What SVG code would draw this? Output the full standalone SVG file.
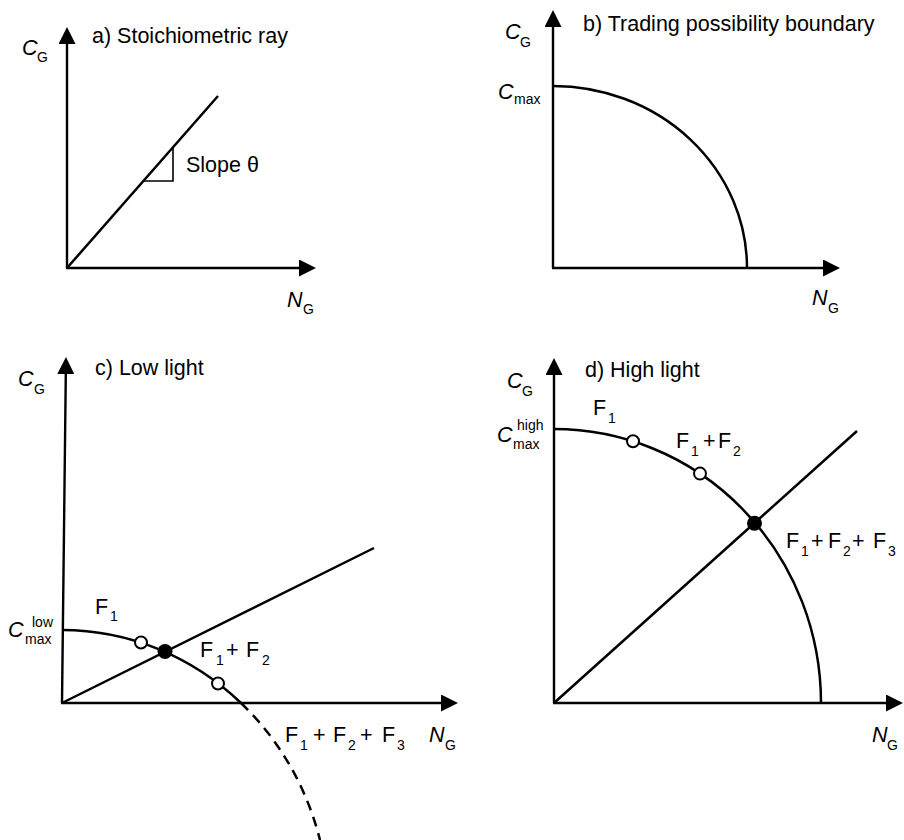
<svg xmlns="http://www.w3.org/2000/svg" width="904" height="840" viewBox="0 0 904 840">
<style>
.bg{fill:#fff}
.ln{fill:none;stroke:#000;stroke-width:2.5}
.thin{fill:none;stroke:#000;stroke-width:1.6}
.dash{fill:none;stroke:#000;stroke-width:2.5;stroke-dasharray:10 7}
.ax{fill:none;stroke:#000;stroke-width:2.4;marker-end:url(#arr)}
.open{fill:#fff;stroke:#000;stroke-width:2}
.fill{fill:#000}
text{font-family:"Liberation Sans",Arial,Helvetica,sans-serif;font-size:21.5px;fill:#000}
.i{font-style:italic}
.s{font-size:14px}
</style>
<defs>
<marker id="arr" viewBox="0 0 17 17" refX="0" refY="8.5" markerWidth="17" markerHeight="17" markerUnits="userSpaceOnUse" orient="auto">
<path d="M0,0 L17,8.5 L0,17 z" fill="#000"/>
</marker>
</defs>
<rect class="bg" x="0" y="0" width="904" height="840"/>

<g id="panel-a">
<g id="a-axes">
<path class="ax" d="M67,268 L67,44"/>
<path class="ax" d="M66,268 L299,268"/>
</g>
<g id="a-connectors">
<path class="ln" d="M67,268 L218,96"/>
<path class="thin" d="M143.5,181 L173,181 L173,147"/>
</g>
<text x="92" y="43">a) Stoichiometric ray</text>
<text class="i" x="22" y="55">C</text><text class="s" x="37" y="62">G</text>
<text class="i" x="287" y="307">N</text><text class="s" x="303" y="314">G</text>
<text x="186" y="172">Slope θ</text>
</g>

<g id="panel-b">
<g id="b-axes">
<path class="ax" d="M553,268 L553,27"/>
<path class="ax" d="M552,268 L823,268"/>
</g>
<g id="b-connectors">
<path class="ln" d="M553,86 A194,182 0 0 1 747,268"/>
</g>
<text x="583" y="31">b) Trading possibility boundary</text>
<text class="i" x="505" y="39">C</text><text class="s" x="520" y="47">G</text>
<text class="i" x="498" y="99">C</text><text class="s" x="514" y="104">max</text>
<text class="i" x="812" y="305">N</text><text class="s" x="828" y="313">G</text>
</g>

<g id="panel-c">
<g id="c-axes">
<path class="ax" d="M62,703 L65.8,374"/>
<path class="ax" d="M61,703 L441,703"/>
</g>
<g id="c-connectors">
<path class="ln" d="M62,703 L374,548"/>
<path class="ln" d="M62,630 A267,283 0 0 1 241,703"/>
<path class="dash" d="M241,703 A267,283 0 0 1 320,840"/>
</g>
<g id="c-points">
<circle class="open" cx="141" cy="642.5" r="6"/>
<circle class="fill" cx="165" cy="651.5" r="7.5"/>
<circle class="open" cx="218" cy="683.5" r="6"/>
</g>
<text x="95" y="375">c) Low light</text>
<text class="i" x="18" y="386">C</text><text class="s" x="34" y="394">G</text>
<text class="i" x="8" y="637">C</text><text class="s" x="32" y="627">low</text><text class="s" x="25" y="644">max</text>
<text x="95" y="614">F</text><text class="s" x="110" y="621">1</text>
<text x="200" y="657">F</text><text class="s" x="216" y="665">1</text><text x="226" y="657">+</text><text x="246" y="657">F</text><text class="s" x="262" y="665">2</text>
<text x="285" y="742">F</text><text class="s" x="300" y="750">1</text><text x="313" y="742">+</text><text x="333" y="742">F</text><text class="s" x="348" y="750">2</text><text x="360" y="742">+</text><text x="382" y="742">F</text><text class="s" x="397" y="750">3</text>
<text class="i" x="429" y="742">N</text><text class="s" x="445" y="750">G</text>
</g>

<g id="panel-d">
<g id="d-axes">
<path class="ax" d="M554,703 L554,375"/>
<path class="ax" d="M553,703 L886,703"/>
</g>
<g id="d-connectors">
<path class="ln" d="M554,703 L857,431"/>
<path class="ln" d="M554,429 A267,274 0 0 1 821,703"/>
</g>
<g id="d-points">
<circle class="open" cx="633" cy="441.3" r="6"/>
<circle class="open" cx="700" cy="473.6" r="6"/>
<circle class="fill" cx="754.5" cy="523.3" r="7.5"/>
</g>
<text x="585" y="377">d) High light</text>
<text class="i" x="507" y="388">C</text><text class="s" x="522" y="396">G</text>
<text class="i" x="497" y="442">C</text><text class="s" x="517" y="430">high</text><text class="s" x="513" y="449">max</text>
<text x="593" y="415">F</text><text class="s" x="608" y="423">1</text>
<text x="676" y="448">F</text><text class="s" x="691" y="456">1</text><text x="703" y="448">+</text><text x="718" y="448">F</text><text class="s" x="733" y="456">2</text>
<text x="786" y="548">F</text><text class="s" x="801" y="556">1</text><text x="811" y="548">+</text><text x="828" y="548">F</text><text class="s" x="843" y="556">2</text><text x="852" y="548">+</text><text x="873" y="548">F</text><text class="s" x="888" y="556">3</text>
<text class="i" x="872" y="742">N</text><text class="s" x="887" y="750">G</text>
</g>
</svg>
